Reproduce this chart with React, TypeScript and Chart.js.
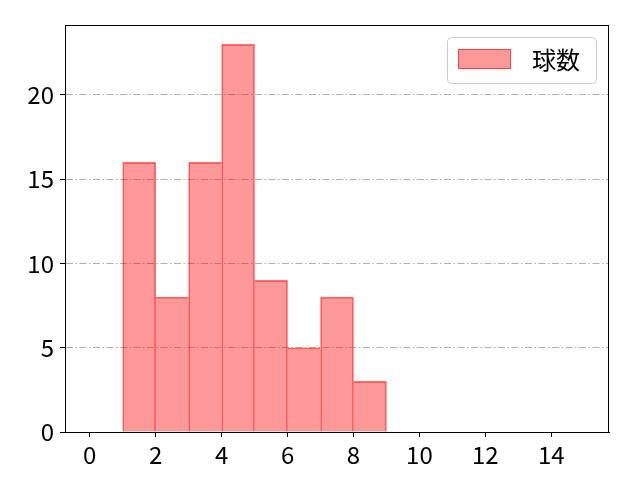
import { useEffect, useRef } from 'react'
import { Chart, registerables } from 'chart.js'

Chart.register(...registerables)

// histogram bins (width 1), only the non-empty ones
const binCenters = [1.5, 2.5, 3.5, 4.5, 5.5, 6.5, 7.5, 8.5]
const counts = [16, 8, 16, 23, 9, 5, 8, 3]
const xTicks = [0, 2, 4, 6, 8, 10, 12, 14]
const yTicks = [0, 5, 10, 15, 20]
const seriesLabel = '球数'

const FONT = "'Noto Sans CJK JP', 'Noto Sans', sans-serif"

// matplotlib-like axes frame + legend box
const framePlugin = {
  id: 'frame',
  afterDraw(chart: any) {
    const { ctx, chartArea } = chart
    ctx.save()
    ctx.strokeStyle = '#000'
    ctx.lineWidth = 1
    ctx.strokeRect(
      Math.round(chartArea.left) + 0.5,
      Math.round(chartArea.top) + 0.5,
      Math.round(chartArea.right - chartArea.left) - 1,
      Math.round(chartArea.bottom - chartArea.top)
    )

    const w = 149
    const h = 46
    const x = chartArea.right - 13 - w
    const y = chartArea.top + 12
    ctx.fillStyle = 'rgba(255,255,255,0.8)'
    ctx.strokeStyle = '#cccccc'
    ctx.beginPath()
    ctx.roundRect(x + 0.5, y + 0.5, w, h, 4)
    ctx.fill()
    ctx.stroke()

    ctx.fillStyle = 'rgba(255,0,0,0.4)'
    ctx.fillRect(x + 11, y + 12, 53, 20)
    ctx.strokeStyle = 'rgba(255,0,0,0.55)'
    ctx.strokeRect(x + 11.5, y + 12.5, 52, 19)

    ctx.fillStyle = '#000'
    ctx.font = `24px ${FONT}`
    ctx.textBaseline = 'middle'
    ctx.textAlign = 'left'
    ctx.fillText(seriesLabel, x + 85, y + 23)
    ctx.restore()
  }
}

export default function App() {
  const canvasRef = useRef<HTMLCanvasElement>(null)
  const chartRef = useRef<Chart | null>(null)

  useEffect(() => {
    if (!canvasRef.current) return
    if (chartRef.current) chartRef.current.destroy()

    const last = counts.length - 1

    chartRef.current = new Chart(canvasRef.current, {
      type: 'bar',
      data: {
        datasets: [
          {
            label: seriesLabel,
            data: binCenters.map((c, i) => ({ x: c, y: counts[i] })),
            backgroundColor: 'rgba(255,0,0,0.4)',
            borderColor: 'rgba(255,0,0,0.55)',
            // shared edges drawn once, by the taller neighbour
            borderWidth: (c: any) => {
              const i = c.dataIndex
              return {
                top: 1,
                bottom: 0,
                left: i === 0 || counts[i - 1] < counts[i] ? 1 : 0,
                right: i === last || counts[i + 1] <= counts[i] ? 1 : 0
              }
            },
            barPercentage: 1,
            categoryPercentage: 1
          }
        ]
      },
      options: {
        responsive: false,
        animation: false,
        layout: { padding: { top: 25, right: 31, left: 0, bottom: 0 } },
        plugins: {
          legend: { display: false },
          tooltip: { enabled: false }
        },
        scales: {
          x: {
            type: 'linear',
            min: -0.75,
            max: 15.75,
            offset: false,
            afterBuildTicks: (axis: any) => {
              axis.ticks = xTicks.map(v => ({ value: v }))
            },
            afterFit: (axis: any) => {
              axis.height = 48
            },
            grid: {
              offset: false,
              drawOnChartArea: false,
              tickLength: 5,
              tickColor: '#000'
            },
            border: { color: '#000' },
            ticks: {
              color: '#000',
              padding: 3,
              maxRotation: 0,
              font: { family: FONT, size: 24 }
            }
          },
          y: {
            min: 0,
            max: 24.15,
            z: 1,
            afterBuildTicks: (axis: any) => {
              axis.ticks = yTicks.map(v => ({ value: v }))
            },
            afterFit: (axis: any) => {
              axis.width = 65
            },
            grid: {
              color: (c: any) => (c.tick && c.tick.value === 0 ? 'rgba(0,0,0,0)' : '#b0b0b0'),
              tickBorderDash: [],
              tickLength: 5,
              tickColor: '#000',
              lineWidth: 1
            },
            border: { color: '#000', dash: [7, 2.5, 1.5, 2.5] },
            ticks: {
              color: '#000',
              padding: 6,
              font: { family: FONT, size: 24 }
            }
          }
        }
      },
      plugins: [framePlugin]
    })

    return () => {
      if (chartRef.current) {
        chartRef.current.destroy()
        chartRef.current = null
      }
    }
  }, [])

  return (
    <div style={{ position: 'fixed', left: 0, top: 0, width: 640, height: 480, background: '#fff' }}>
      <canvas ref={canvasRef} width={640} height={480} />
    </div>
  )
}
